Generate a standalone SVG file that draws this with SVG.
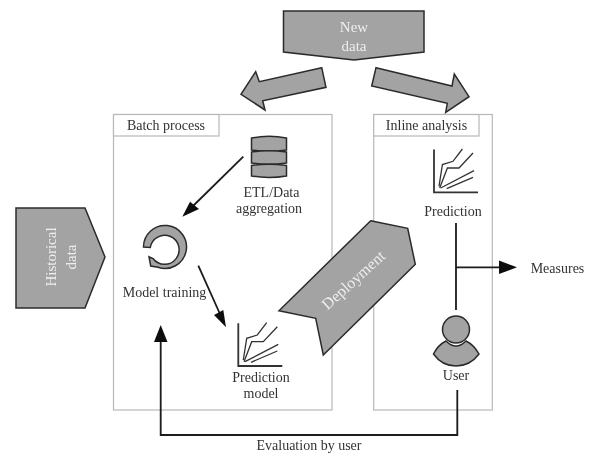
<svg xmlns="http://www.w3.org/2000/svg" width="592" height="455" viewBox="0 0 592 455">
<defs>
<style>
.shape{fill:#a3a3a3;stroke:#2b2b2b;stroke-width:1.5;stroke-linejoin:miter}
.box{fill:#fff;stroke:#b8b8b8;stroke-width:1.2}
.t{font-family:"Liberation Serif",serif;font-size:14px;fill:#333;text-anchor:middle}
.w{font-family:"Liberation Serif",serif;font-size:15px;fill:#eee;text-anchor:middle}
.c{fill:none;stroke:#1a1a1a;stroke-width:1.8}
.h{fill:#111;stroke:none}
.ch{fill:none;stroke:#333;stroke-width:1.3}
</style>
<filter id="soft" x="-5%" y="-5%" width="110%" height="110%"><feGaussianBlur stdDeviation="0.45"/></filter>
<g id="chart">
<path d="M238.3,323.3V366H282.3" fill="none" stroke="#333" stroke-width="1.8"/>
<path class="ch" d="M243.3,360L246.7,338.3L257.3,335L266.7,322.7"/>
<path class="ch" d="M244,361.7L251.7,341.7L263.3,341.7L277.3,326.7"/>
<path class="ch" d="M245,361.7L278.3,344.3"/>
<path class="ch" d="M251,362.3L277.3,351"/>
</g>
</defs>
<rect width="592" height="455" fill="#fff"/>
<g filter="url(#soft)">
<g id="batch-process">
<rect class="box" x="113.5" y="114.5" width="218.5" height="295.5"/>
<rect class="box" x="113.5" y="114.5" width="105.5" height="21.5"/>
<text class="t" x="166" y="130">Batch process</text>
</g>
<g id="inline-analysis">
<rect class="box" x="373.7" y="114.5" width="118.6" height="295.5"/>
<rect class="box" x="373.7" y="114.5" width="105.3" height="21.5"/>
<text class="t" x="426.5" y="129.5">Inline analysis</text>
</g>
<g id="new-data">
<path class="shape" d="M283.5,11H424V52L354,60L283.5,52Z"/>
<text class="w" x="354" y="32">New</text>
<text class="w" x="354" y="51">data</text>
</g>
<g id="arrow-to-batch">
<path class="shape" d="M321.7,67.7L259.3,81.7L255.7,71.7L241,94.3L265,110L262.7,100.7L326,87.3Z"/>
</g>
<g id="arrow-to-inline">
<path class="shape" d="M376,67.7L452,86L454.3,74L469,96.7L445.7,112.3L447.3,103.3L371.7,86Z"/>
</g>
<g id="historical-data">
<path class="shape" d="M16,208H85L105,257L85,308H16Z"/>
<text class="w" transform="translate(56,257) rotate(-90)">Historical</text>
<text class="w" transform="translate(76,257) rotate(-90)">data</text>
</g>
<g id="etl">
<path class="shape" d="M251.5,138Q269,134.5 286.5,138V150Q269,152.5 251.5,150Z"/>
<path class="shape" d="M251.5,152Q269,149.5 286.5,152V163Q269,165.5 251.5,163Z"/>
<path class="shape" d="M251.5,165.5Q269,163 286.5,165.5V176Q269,179 251.5,176Z"/>
<text class="t" x="271.5" y="197">ETL/Data</text>
<text class="t" x="269" y="213">aggregation</text>
</g>
<g id="model-training">
<path class="shape" d="M143.5,247A21.5,21.5 0 1 1 158,267.3L150.7,266L149,256.7L153,258.5A14.5,14.5 0 1 0 150.3,247.5Z"/>
<text class="t" x="164.5" y="297">Model training</text>
</g>
<g id="prediction-model">
<use href="#chart"/>
<text class="t" x="261" y="382">Prediction</text>
<text class="t" x="261" y="398">model</text>
</g>
<g id="deployment">
<path class="shape" d="M370.7,220.7L407.7,228.3L415.3,264.3L323.3,355L315.7,318.3L279,310.7Z"/>
<text class="w" style="font-size:16px" transform="translate(357,284) rotate(-42)">Deployment</text>
</g>
<g id="prediction">
<use href="#chart" transform="translate(195.7,-173.7)"/>
<text class="t" x="453" y="215.5">Prediction</text>
</g>
<g id="user">
<circle class="shape" cx="456" cy="329.5" r="13.5"/>
<path class="shape" d="M433.5,354Q438,345 446,341Q456,351 466,341Q474,345 479,354Q470,366 456,366Q442,366 433.5,354Z"/>
<text class="t" x="456" y="380">User</text>
</g>
<g id="measures">
<text class="t" x="557.5" y="273">Measures</text>
</g>
<g id="connectors">
<path class="c" d="M243.3,156.7L192,207"/>
<path class="h" d="M182.3,216.7L190,201.7L199,209Z"/>
<path class="c" d="M198.3,265.7L220,314"/>
<path class="h" d="M226,327.3L214,315L223.3,310Z"/>
<path class="c" d="M456,223V310M456,267.3H500"/>
<path class="h" d="M517,267.3L499,260.5V274Z"/>
<path class="c" d="M457.3,390V435H160.7V340"/>
<path class="h" d="M160.7,325L167.5,342H154Z"/>
</g>
<text class="t" x="309" y="450">Evaluation by user</text>
</g>
</svg>
